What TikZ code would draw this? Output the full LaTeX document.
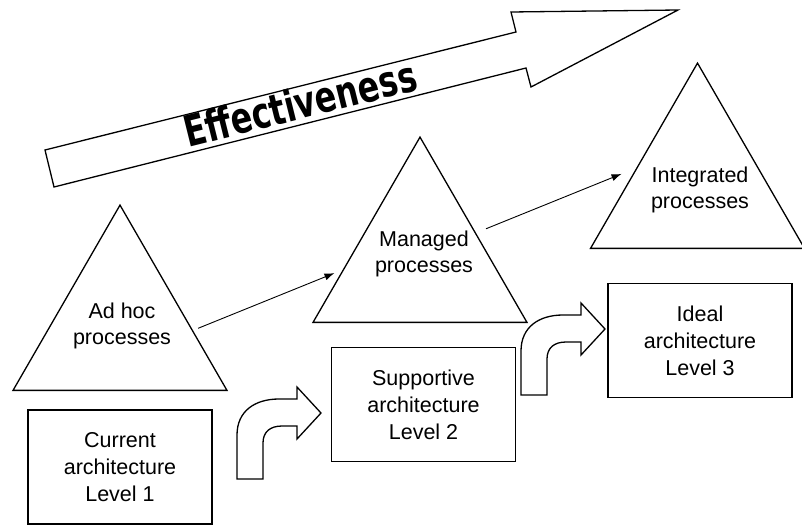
\documentclass[tikz,border=0pt]{standalone}
\usepackage{fontspec}
\setmainfont{Liberation Sans}
\newfontfamily\efffont{DejaVu Sans}
\usetikzlibrary{arrows.meta}
\usetikzlibrary{calc}
\usetikzlibrary{shapes.geometric}

\begin{document}
\begin{tikzpicture}[
    x=1pt, y=-1pt,
    arrowtip/.style={
      -{Latex[length=10pt,width=7pt]}, line width=0.9pt
    },
    outline/.style={draw, line width=1.3pt, line join=miter},
    tri/.style={
      outline, regular polygon, regular polygon sides=3,
      minimum size=247pt, inner sep=0pt, outer sep=0pt
    },
    trilabel/.style={
      align=center, inner sep=0pt,
      font=\fontsize{21.5}{26}\selectfont
    },
    level/.style={
      outline, minimum width=184pt, minimum height=114pt,
      inner sep=0pt, align=center,
      font=\fontsize{21.5}{27}\selectfont
    },
    bentarrow/.pic={
      \draw[outline] (0,0) -- (0,-44)
        .. controls (0,-68) and (18,-80) .. (42,-80)
        -- (60,-80) -- (60,-92) -- (84,-66) -- (60,-40) -- (60,-53)
        -- (45,-53) .. controls (33,-53) and (26,-47) .. (26,-36)
        -- (26,0) -- cycle;
    }
  ]
    \useasboundingbox (0,0) rectangle (802,527);

    \coordinate (TA) at (120,328.6);
    \coordinate (TB) at (420,260.6);
    \coordinate (TC) at (697.5,186.6);

    \coordinate (BA) at (120,467);
    \coordinate (BB) at (423.5,404.5);
    \coordinate (BC) at (700,340.5);

    % effectiveness arrow
    \draw[outline] (45,150) -- (516,32) -- (511,12) -- (678,10)
      -- (531,87) -- (526,68) -- (54,187) -- cycle;
    \node[rotate=14, xscale=0.74, font=\efffont\bfseries\fontsize{43}{43}\selectfont]
      (EFF) at (300,103) {Effectiveness};

    \node[tri] (TAT) at (TA) {};
    \node[tri] (TBT) at (TB) {};
    \node[tri] (TCT) at (TC) {};
    \node[trilabel] (TAL) at (122,326) {Ad hoc\\processes};
    \node[trilabel] (TBL) at (424,254) {Managed\\processes};
    \node[trilabel] (TCL) at (700,190) {Integrated\\processes};

    \node[level] (BAT) at (BA) {Current\\architecture\\Level 1};
    \node[level] (BBT) at (BB) {Supportive\\architecture\\Level 2};
    \node[level] (BCT) at (BC) {Ideal\\architecture\\Level 3};

    \coordinate (AAS) at ($(TAT.corner 1)!0.665!(TAT.corner 3)+(7,0)$);
    \coordinate (AAE) at ($(TBT.corner 1)!0.734!(TBT.corner 2)+(-7,0)$);
    \coordinate (ABS) at ($(TBT.corner 1)!0.495!(TBT.corner 3)+(13,0)$);
    \coordinate (ABE) at ($(TCT.corner 1)!0.598!(TCT.corner 2)+(-12,0)$);

    \draw[arrowtip] (AAS) to (AAE);
    \draw[arrowtip] (ABS) to (ABE);

    \pic at (237,479) {bentarrow};
    \pic at (521,395) {bentarrow};
  \end{tikzpicture}
\end{document}
